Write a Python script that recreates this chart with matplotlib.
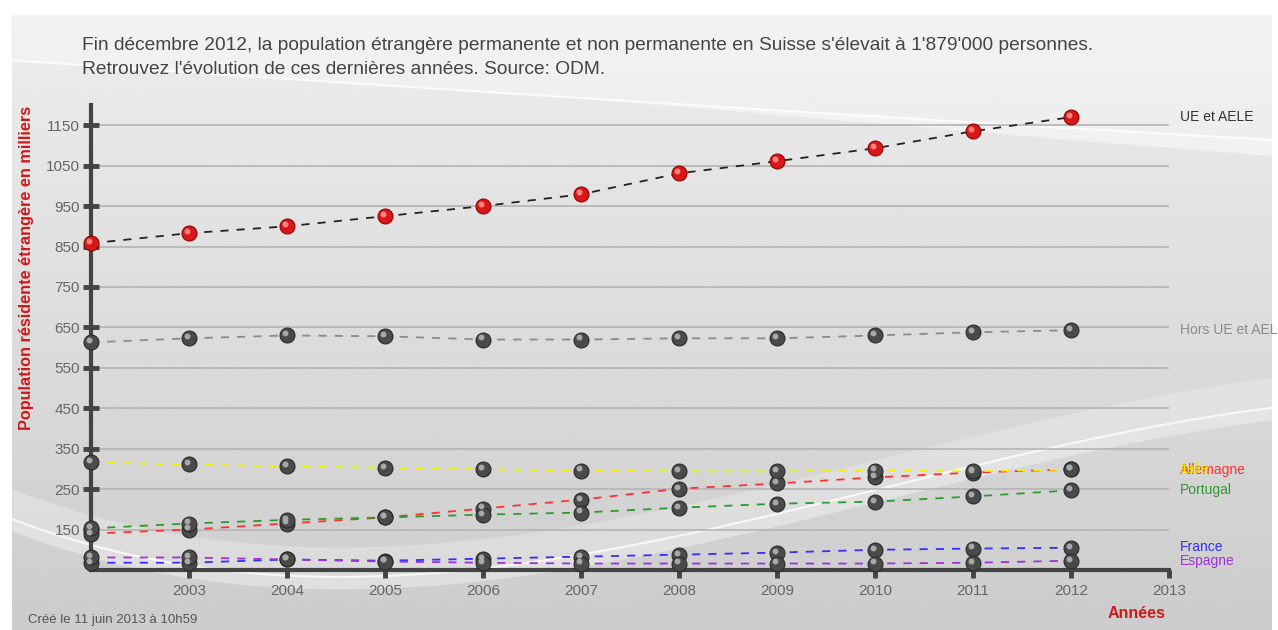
import numpy as np
import matplotlib
matplotlib.use("Agg")
import matplotlib.pyplot as plt
from matplotlib.transforms import offset_copy, blended_transform_factory

plt.rcParams['font.family'] = ['Liberation Sans', 'DejaVu Sans']

# Data (thousands of persons)
years = [2002, 2003, 2004, 2005, 2006, 2007, 2008, 2009, 2010, 2011, 2012]
ue_aele = [858, 883, 900, 925, 950, 979, 1031, 1061, 1093, 1135, 1170]
hors_ue = [613, 623, 630, 628, 620, 620, 623, 623, 630, 638, 643]
italie = [316, 311, 306, 303, 299, 296, 294, 294, 296, 294, 299]
allemagne = [140, 150, 165, 180, 202, 224, 251, 264, 279, 291, 299]
portugal = [153, 165, 174, 180, 187, 192, 204, 214, 219, 232, 247]
france = [68, 68, 76, 73, 78, 83, 88, 93, 100, 103, 105]
espagne = [81, 81, 76, 71, 68, 66, 66, 66, 66, 68, 73]

yticks = [150, 250, 350, 450, 550, 650, 750, 850, 950, 1050, 1150]
xticks = list(range(2003, 2014))

# name, values, line colour, label text, label colour, label height
series = [
    ("UE et AELE", ue_aele, "#222222", "UE et AELE", "#333333", 1170),
    ("Hors UE et AELE", hors_ue, "#8a8a8a", "Hors UE et AEL", "#8a8a8a", 643),
    ("Allemagne", allemagne, "#ff3030", "Allemagne", "#ff3030", 297),
    ("Italie", italie, "#f4f000", "Italie", "#f0e800", 299),
    ("Portugal", portugal, "#2e9a2e", "Portugal", "#2e9a2e", 247),
    ("France", france, "#3030ff", "France", "#3030ff", 106),
    ("Espagne", espagne, "#a030d8", "Espagne", "#a030d8", 72),
]

W, H = 1278, 630
fig = plt.figure(figsize=(W / 100, H / 100), dpi=100)
fig.patch.set_facecolor("white")

# background panel: grey gradient with light swooshes (pixel coords)
bg = fig.add_axes([12 / W, 0, (1272 - 12) / W, (630 - 15) / H])
grad = np.linspace(0.93, 0.80, 256).reshape(-1, 1)
bg.imshow(grad, extent=[12, 1272, 630, 15], aspect="auto", cmap="gray", vmin=0, vmax=1)
xs = np.linspace(12, 1272, 400)
# top swoosh
top_px = np.polyval(np.polyfit([0, 400, 800, 1278], [60, 85, 113, 140], 2), xs)
bg.fill_between(xs, 15, top_px, color="white", alpha=0.30, lw=0)
band_w = np.clip((xs - 600) / 678, 0, 1) * 16
bg.fill_between(xs, top_px, top_px + band_w, color="white", alpha=0.45, lw=0)
bg.plot(xs, top_px, color="white", lw=1.5, alpha=0.8)
# bottom swoosh
low_px = np.polyval(np.polyfit([0, 200, 400, 700, 1000, 1278],
                               [515, 565, 578, 530, 460, 407], 3), xs)
bg.fill_between(xs, low_px - 30, low_px, color="white", alpha=0.25, lw=0)
bg.fill_between(xs, low_px, low_px + 12, color="white", alpha=0.35, lw=0)
bg.plot(xs, low_px, color="white", lw=1.5, alpha=0.8)
bg.set_xlim(12, 1272)
bg.set_ylim(630, 15)
bg.axis("off")

# main axes
ax = fig.add_axes([91 / W, 60 / H, (1169 - 91) / W, (570 - 105) / H])
ax.set_facecolor("none")
ax.set_xlim(2002, 2013)
ax.set_ylim(50, 1200)

for yv in yticks:
    ax.axhline(yv, color="#b4b4b4", lw=1.2, zorder=1)

lab_tr = blended_transform_factory(fig.transFigure, ax.transData)
hl = offset_copy(ax.transData, fig=fig, x=-1.5, y=1.5, units="points")
for name, vals, lc, lab, tc, ly in series:
    ax.plot(years, vals, color=lc, lw=1.3, ls=(0, (4.5, 4.5)), zorder=3, clip_on=False)
    red = name == "UE et AELE"
    ax.scatter(years, vals, s=115, color="#d81818" if red else "#4a4a4a",
               edgecolor="#900000" if red else "#2a2a2a", lw=0.8, zorder=4, clip_on=False)
    ax.scatter(years, vals, s=18, color="#ff8080" if red else "#a8a8a8", lw=0,
               zorder=5, clip_on=False, transform=hl)
    ax.text(1180 / W, ly, lab, transform=lab_tr, color=tc, fontsize=10, va="center",
            ha="left", zorder=6, clip_on=False)

ax.spines["top"].set_visible(False)
ax.spines["right"].set_visible(False)
for sp in ("left", "bottom"):
    ax.spines[sp].set_color("#444444")
    ax.spines[sp].set_linewidth(3)

ax.set_yticks(yticks)
ax.set_yticklabels([str(v) for v in yticks])
ax.set_xticks(xticks)
ax.set_xticklabels([str(v) for v in xticks])
ax.tick_params(axis="y", direction="inout", length=12, width=3.5, color="#444444",
               labelcolor="#666666", labelsize=11, pad=2)
ax.tick_params(axis="x", direction="out", length=6, width=3.5, color="#444444",
               labelcolor="#666666", labelsize=11, pad=4)

ax.set_ylabel("Population résidente étrangère en milliers", color="#d01818", fontsize=11.7,
              fontweight="bold")
ax.yaxis.set_label_coords(-0.053, 0.65)

fig.text(1137 / W, 1 - 614 / H, "Années", color="#d01818", fontsize=11.5, fontweight="bold",
         ha="center", va="center")
fig.text(82 / W, 1 - 45 / H,
         "Fin décembre 2012, la population étrangère permanente et non permanente en Suisse s'élevait à 1'879'000 personnes.",
         color="#444444", fontsize=13.8, va="center")
fig.text(82 / W, 1 - 70 / H, "Retrouvez l'évolution de ces dernières années. Source: ODM.",
         color="#444444", fontsize=13.8, va="center")
fig.text(28 / W, 1 - 620 / H, "Créé le 11 juin 2013 à 10h59", color="#555555", fontsize=9.5,
         va="center")

fig.savefig("out.png", dpi=100)
